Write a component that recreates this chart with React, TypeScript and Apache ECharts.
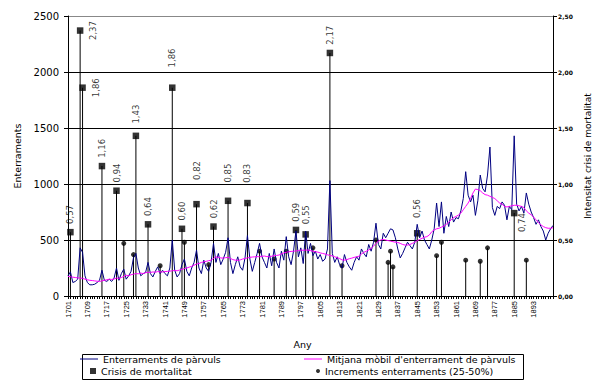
import React, { useEffect, useRef } from 'react';
import * as echarts from 'echarts';

const FIRST_YEAR = 1701;
const LAST_LABEL_YEAR = 1893;

// Enterraments de pàrvuls (yearly burials), 1701-1901
const burials = [
  180, 215, 120, 130, 150, 430, 390, 180, 120, 100,
  100, 105, 120, 140, 230, 140, 130, 150, 130, 160,
  250, 140, 200, 240, 150, 180, 220, 340, 380, 250,
  180, 200, 210, 300, 200, 170, 220, 260, 200, 230,
  200, 180, 250, 500, 230, 170, 200, 280, 330, 220,
  180, 250, 300, 410, 250, 200, 320, 250, 220, 300,
  470, 300, 380, 280, 330, 390, 520, 300, 200, 280,
  350, 260, 230, 340, 540, 330, 220, 300, 380, 470,
  350, 300, 250, 380, 270, 420, 300, 250, 400, 320,
  530, 350, 280, 400, 580, 350, 430, 290, 580, 380,
  470, 360, 400, 330, 370, 310, 330, 420, 1030, 380,
  300, 350, 280, 250, 370, 300, 260, 230, 300, 350,
  320, 420, 380, 350, 460, 400, 480, 650, 460, 420,
  560, 520, 560, 600, 590, 520, 420, 340, 380, 430,
  480, 450, 420, 480, 640, 520, 580, 500, 460, 420,
  500, 600, 830, 620, 840, 560, 710, 620, 750, 660,
  700, 690, 760, 870, 1110, 900, 840, 900, 720, 850,
  1080, 960, 930, 1080, 1330, 790, 720, 800, 780, 840,
  810, 680, 800, 770, 1430, 820, 760, 800, 740, 920,
  820, 750, 700, 640, 680, 620, 580, 500, 560, 600,
  630,
];

// Mitjana mòbil (moving average)
const movingAverage = [
  175, 172, 168, 165, 162, 160, 158, 150, 145, 140,
  138, 135, 132, 130, 135, 140, 145, 150, 148, 152,
  160, 158, 165, 175, 185, 180, 190, 195, 200, 198,
  205, 200, 208, 212, 210, 215, 212, 218, 215, 215,
  218, 220, 222, 225, 228, 225, 232, 238, 245, 250,
  258, 265, 275, 285, 290, 300, 305, 310, 315, 320,
  335, 350, 345, 340, 338, 342, 345, 335, 325, 320,
  318, 322, 330, 335, 340, 345, 348, 350, 352, 350,
  355, 357, 352, 350, 355, 360, 362, 366, 375, 385,
  390, 395, 398, 400, 402, 405, 410, 408, 410, 410,
  405, 400, 396, 392, 385, 380, 375, 368, 362, 358,
  350, 342, 335, 322, 320, 325, 333, 338, 345, 350,
  355, 375, 390, 400, 410, 425, 445, 470, 490, 500,
  505, 500, 495, 490, 485, 480, 478, 470, 460, 455,
  455, 460, 470, 480, 494, 505, 515, 525, 530, 545,
  574, 590, 600, 605, 615, 625, 640, 660, 680, 700,
  710, 723, 740, 770, 800, 830, 870, 920, 955, 950,
  940, 920, 905, 900, 890, 880, 870, 850, 830, 820,
  800, 795, 800, 805, 810, 810, 805, 800, 790, 760,
  740, 725, 705, 680, 655, 635, 620, 610, 605, 605,
  610,
];

// Crisis de mortalitat (intensity, right axis)
const crisisYears = [1702, 1706, 1707, 1715, 1721, 1729, 1734, 1744, 1748, 1754, 1761, 1767, 1775, 1795, 1799, 1809, 1845, 1885];
const crisisIntensity = [0.57, 2.37, 1.86, 1.16, 0.94, 1.43, 0.64, 1.86, 0.60, 0.82, 0.62, 0.85, 0.83, 0.59, 0.55, 2.17, 0.56, 0.74];

// Increments enterraments (25-50%) (right axis)
const incrementYears = [1724, 1728, 1739, 1749, 1759, 1780, 1786, 1791, 1802, 1814, 1828, 1833, 1834, 1835, 1853, 1855, 1865, 1871, 1874, 1890];
const incrementValues = [0.47, 0.37, 0.27, 0.48, 0.28, 0.40, 0.33, 0.40, 0.43, 0.27, 0.50, 0.30, 0.40, 0.26, 0.36, 0.48, 0.32, 0.31, 0.43, 0.32];

const years = burials.map((_, i) => String(FIRST_YEAR + i));

const SER_BURIALS = 'Enterraments de pàrvuls';
const SER_AVG = "Mitjana mòbil d'enterrament de pàrvuls";
const SER_CRISIS = 'Crisis de mortalitat';
const SER_INC = 'Increments enterraments (25-50%)';

const DV = 'DejaVu Sans';
const ARIAL = 'Liberation Sans, Arial';

// label placement tweaks (style only)
const LABEL_RIGHT = new Set([1706, 1707]);
const LABEL_BELOW_RIGHT = new Set([1885]);
const LABEL_DIST: Record<number, number> = { 1729: 9, 1744: 17, 1754: 21, 1767: 15, 1775: 17, 1845: 12, 1799: 7 };

const fmt = (v: number) => v.toFixed(2).replace('.', ',');

function buildOption() {
  const crisisData = crisisYears.map((y, i) => {
    let label: any;
    if (LABEL_RIGHT.has(y)) {
      label = { position: 'right', distance: 10, align: 'center', verticalAlign: 'middle' };
    } else if (LABEL_BELOW_RIGHT.has(y)) {
      label = { position: 'right', distance: 5, align: 'right', verticalAlign: 'middle' };
    } else {
      label = { position: 'top', distance: LABEL_DIST[y] ?? 5, align: 'left', verticalAlign: 'middle' };
    }
    return { value: [String(y), crisisIntensity[i]], label };
  });
  const crisisStem = crisisYears.map((y, i) => [String(y), crisisIntensity[i]]);
  const incData = incrementYears.map((y, i) => [String(y), incrementValues[i]]);

  const legendText = { fontFamily: DV, fontSize: 9.5, color: '#000', lineHeight: 12 };
  const lastLabelIndex = LAST_LABEL_YEAR - FIRST_YEAR;

  return {
    animation: false,
    backgroundColor: '#ffffff',
    grid: { left: 68, right: 52, top: 16, bottom: 88, containLabel: false },
    xAxis: {
      type: 'category',
      data: years,
      boundaryGap: false,
      name: 'Any',
      nameLocation: 'middle',
      nameGap: 43,
      nameTextStyle: { fontFamily: DV, fontSize: 9.5, color: '#000', padding: [0, 16, 0, 0] },
      axisLine: { show: true, lineStyle: { color: '#000', width: 1 } },
      axisTick: { show: true, interval: 0, length: 3, lineStyle: { color: '#000', width: 1 } },
      axisLabel: {
        interval: (index: number) => index % 8 === 0 && index <= lastLabelIndex,
        rotate: 90,
        fontFamily: ARIAL,
        fontSize: 7.5,
        color: '#000',
        margin: 5,
      },
      splitLine: { show: false },
    },
    yAxis: [
      {
        type: 'value',
        min: 0,
        max: 2500,
        interval: 500,
        position: 'left',
        name: 'Enterraments',
        nameLocation: 'middle',
        nameGap: 42,
        nameRotate: 90,
        nameTextStyle: { fontFamily: DV, fontSize: 9.5, color: '#000' },
        axisLine: { show: true, lineStyle: { color: '#000', width: 1 } },
        axisTick: { show: true, length: 4, lineStyle: { color: '#000' } },
        axisLabel: { fontFamily: DV, fontSize: 10, color: '#000', margin: 9, formatter: (v: number) => String(v) },
        splitLine: {
          show: true,
          lineStyle: { color: ['#000', '#000', '#000', '#000', '#000', '#888'], width: 1 },
        },
      },
      {
        type: 'value',
        min: 0,
        max: 2.5,
        interval: 0.5,
        position: 'right',
        name: 'Intensitat crisi de mortalitat',
        nameLocation: 'middle',
        nameGap: 24,
        nameRotate: 90,
        nameTextStyle: { fontFamily: DV, fontSize: 9, color: '#000' },
        axisLine: { show: true, lineStyle: { color: '#000', width: 1 } },
        axisTick: { show: true, length: 4, lineStyle: { color: '#000' } },
        axisLabel: {
          fontFamily: DV,
          fontSize: 6,
          fontWeight: 'bold',
          color: '#000',
          margin: 5,
          formatter: (v: number) => fmt(v),
        },
        splitLine: { show: false },
      },
    ],
    legend: [
      {
        data: [{ name: SER_BURIALS, icon: 'path://M0,0H18V1H0Z' }],
        left: 80, top: 353, padding: 0, itemWidth: 18, itemHeight: 8,
        selectedMode: false, textStyle: legendText,
      },
      {
        data: [{ name: SER_CRISIS, icon: 'path://M0,0H10V10H0Z' }],
        left: 90, top: 365, padding: 0, itemWidth: 6, itemHeight: 6,
        selectedMode: false, textStyle: legendText,
      },
      {
        data: [{ name: SER_AVG, icon: 'path://M0,0H18V1H0Z' }],
        left: 304, top: 353, padding: 0, itemWidth: 18, itemHeight: 8,
        selectedMode: false, textStyle: legendText,
      },
      {
        data: [{ name: SER_INC, icon: 'circle' }],
        left: 316, top: 365, padding: 0, itemWidth: 4, itemHeight: 4,
        selectedMode: false, textStyle: legendText,
      },
    ],
    graphic: [
      {
        type: 'rect',
        left: 80,
        top: 352,
        shape: { width: 441, height: 25 },
        style: { fill: 'none', stroke: '#000', lineWidth: 1 },
        z: 0,
        silent: true,
      },
    ],
    series: [
      {
        name: SER_BURIALS,
        type: 'line',
        data: burials,
        yAxisIndex: 0,
        symbol: 'none',
        lineStyle: { color: '#000080', width: 1 },
        itemStyle: { color: '#000080' },
      },
      {
        name: SER_AVG,
        type: 'line',
        data: movingAverage,
        yAxisIndex: 0,
        symbol: 'none',
        lineStyle: { color: '#ff00ff', width: 1 },
        itemStyle: { color: '#ff00ff' },
      },
      {
        name: 'crisisStem',
        type: 'bar',
        data: crisisStem,
        yAxisIndex: 1,
        barWidth: 1,
        barGap: '-100%',
        itemStyle: { color: '#000' },
        silent: true,
      },
      {
        name: 'incrementStem',
        type: 'bar',
        data: incData,
        yAxisIndex: 1,
        barWidth: 1,
        barGap: '-100%',
        itemStyle: { color: '#000' },
        silent: true,
      },
      {
        name: SER_CRISIS,
        type: 'scatter',
        data: crisisData,
        yAxisIndex: 1,
        symbol: 'rect',
        symbolSize: 6.5,
        itemStyle: { color: '#000' },
        label: {
          show: true,
          rotate: 90,
          fontFamily: DV,
          fontSize: 8.5,
          color: '#000',
          formatter: (p: any) => fmt(p.value[1]),
        },
      },
      {
        name: SER_INC,
        type: 'scatter',
        data: incData,
        yAxisIndex: 1,
        symbol: 'circle',
        symbolSize: 5,
        itemStyle: { color: '#000' },
      },
    ],
  };
}

export default function App() {
  const ref = useRef<HTMLDivElement>(null);
  useEffect(() => {
    if (!ref.current) return;
    const chart = echarts.init(ref.current, undefined, { renderer: 'svg' });
    chart.setOption(buildOption() as any);
    return () => chart.dispose();
  }, []);
  return (
    <div
      ref={ref}
      style={{ position: 'fixed', left: 0, top: 0, width: 605, height: 384, background: '#fff' }}
    />
  );
}
